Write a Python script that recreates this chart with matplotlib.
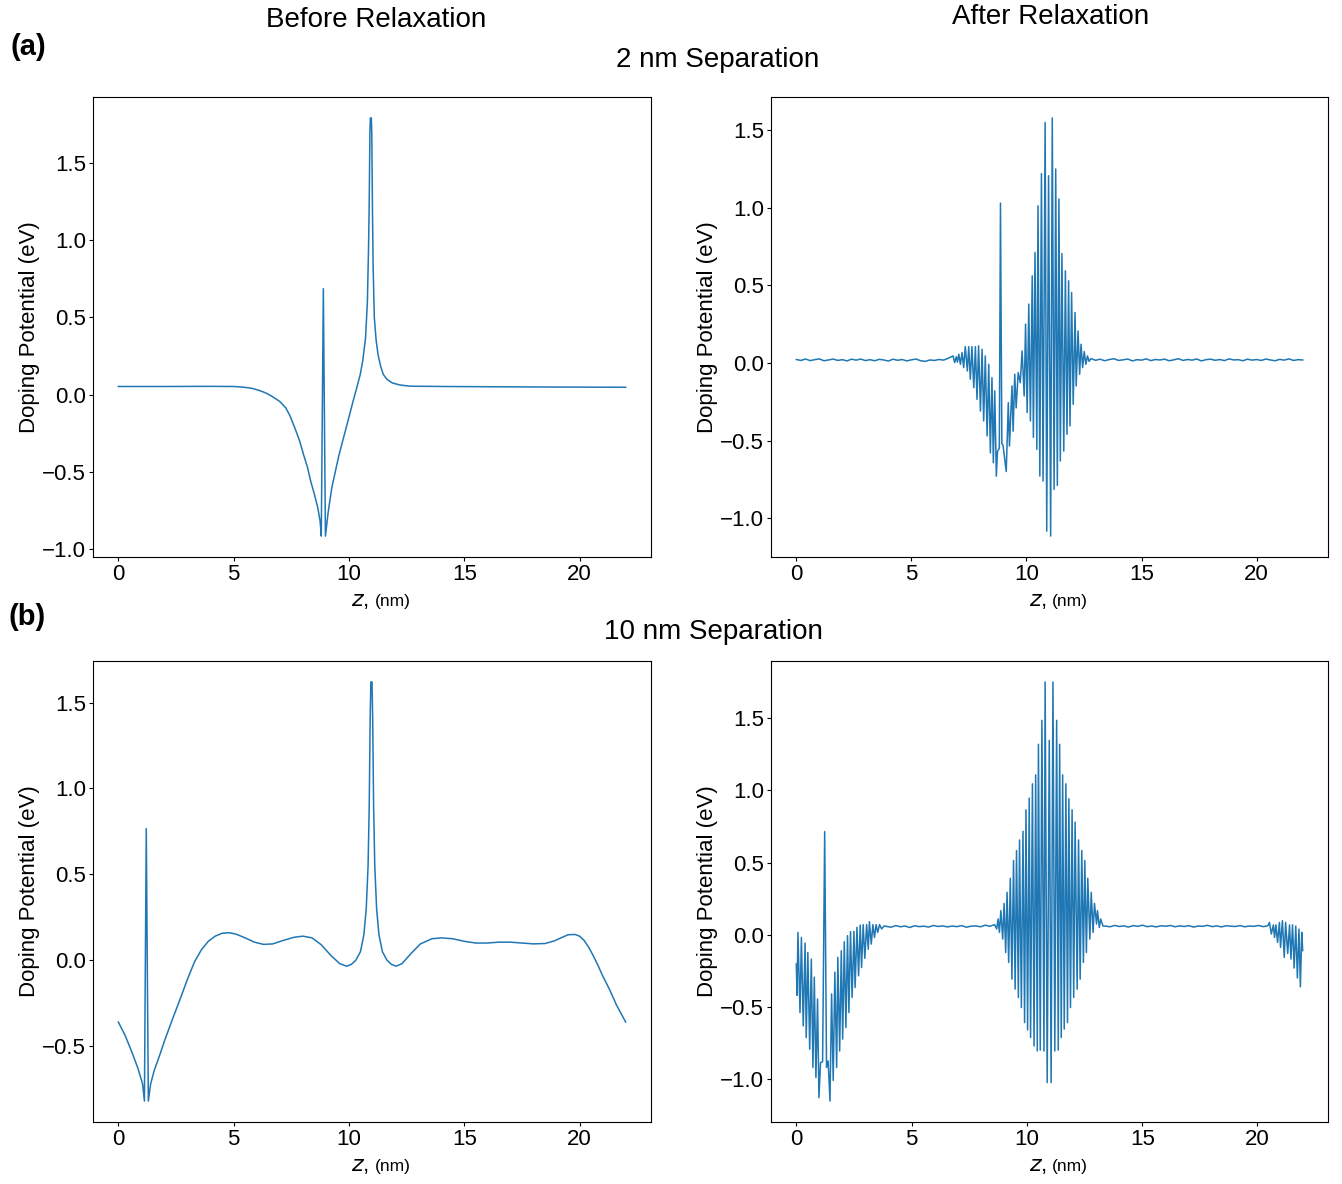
import numpy as np
import matplotlib
matplotlib.use("Agg")
import matplotlib.pyplot as plt

plt.rcParams["font.family"] = ["Liberation Sans", "DejaVu Sans"]

LINE_COLOR = "#1f77b4"
X_TICKS = [0, 5, 10, 15, 20]

# ---- (a) 2 nm separation, before relaxation ----
TL_Z = [0.0, 2.0, 4.0, 5.0, 5.4, 5.8, 6.1, 6.4, 6.7, 7.0, 7.26, 7.45, 7.65, 7.85,
        8.03, 8.2, 8.34, 8.5, 8.65, 8.75, 8.8, 8.89, 8.98, 9.1, 9.26, 9.57, 9.88,
        10.18, 10.35, 10.49, 10.6, 10.72, 10.8, 10.85, 10.88, 10.91, 10.93, 10.97,
        10.99, 11.02, 11.05, 11.1, 11.18, 11.26, 11.38, 11.49, 11.65, 11.88, 12.2,
        12.65, 14.2, 18.0, 22.0]
TL_V = [0.052, 0.052, 0.053, 0.052, 0.048, 0.040, 0.027, 0.010, -0.015, -0.045,
        -0.086, -0.14, -0.215, -0.295, -0.388, -0.47, -0.56, -0.645, -0.733, -0.82,
        -0.916, 0.685, -0.916, -0.76, -0.60, -0.39, -0.215, -0.043, 0.05, 0.13, 0.22,
        0.366, 0.60, 0.95, 1.25, 1.70, 1.79, 1.79, 1.70, 1.20, 0.82, 0.50, 0.35,
        0.26, 0.18, 0.13, 0.098, 0.075, 0.062, 0.054, 0.052, 0.049, 0.047]

# ---- (a) 2 nm separation, after relaxation ----
TR_FLAT_L = [0.022, 0.016, 0.025, 0.015, 0.021, 0.026, 0.014, 0.019, 0.025, 0.016,
             0.021, 0.013, 0.024, 0.018, 0.025, 0.015, 0.021, 0.014, 0.023, 0.019,
             0.012, 0.024, 0.017, 0.022, 0.013, 0.020, 0.025, 0.014, 0.010, 0.019,
             0.016, 0.022, 0.018, 0.030]
TR_OSC_Z = [6.81, 6.88, 6.95, 7.0, 7.06, 7.13, 7.2, 7.27, 7.34, 7.43,
            7.49, 7.56, 7.63, 7.71, 7.78, 7.85, 7.92, 8.0, 8.07, 8.14,
            8.21, 8.29, 8.36, 8.43, 8.5, 8.56, 8.62, 8.69, 8.74, 8.82,
            8.87, 8.93, 8.98, 9.12, 9.21, 9.26, 9.37, 9.42, 9.49, 9.55,
            9.64, 9.73, 9.81, 9.9, 9.96, 10.03, 10.1, 10.17, 10.25, 10.3,
            10.37, 10.45, 10.5, 10.58, 10.65, 10.72, 10.81, 10.88, 10.96, 11.05,
            11.12, 11.2, 11.27, 11.34, 11.41, 11.47, 11.54, 11.62, 11.69, 11.76,
            11.83, 11.89, 11.96, 12.03, 12.11, 12.16, 12.24, 12.31, 12.37, 12.44,
            12.51, 12.58, 12.65, 12.72]
TR_OSC_V = [0.045, 0.002, 0.040, 0.005, 0.056, -0.009, 0.067, -0.030, 0.105, -0.052,
            0.105, -0.105, 0.105, -0.160, 0.105, -0.235, 0.110, -0.310, 0.088, -0.374,
            0.045, -0.470, -0.009, -0.580, -0.095, -0.643, -0.180, -0.730, -0.570, -0.550,
            1.030, -0.520, -0.530, -0.700, -0.256, -0.536, -0.148, -0.440, -0.073, -0.290,
            -0.062, -0.127, 0.077, -0.213, 0.250, -0.320, 0.379, -0.374, 0.561, -0.480,
            0.712, -0.557, 1.013, -0.729, 1.220, -0.761, 1.550, -1.084, 1.206, -1.116,
            1.579, -0.815, 1.250, -0.790, 1.056, -0.632, 0.705, -0.568, 0.594, -0.460,
            0.529, -0.406, 0.454, -0.267, 0.325, -0.148, 0.206, -0.073, 0.120, -0.030,
            0.073, -0.009, 0.045, 0.010]
TR_FLAT_R = [0.028, 0.017, 0.024, 0.014, 0.022, 0.027, 0.016, 0.020, 0.025, 0.013,
             0.021, 0.018, 0.026, 0.015, 0.022, 0.019, 0.024, 0.014, 0.020, 0.027,
             0.016, 0.022, 0.018, 0.025, 0.013, 0.021, 0.024, 0.017, 0.022, 0.015,
             0.026, 0.019, 0.021, 0.014, 0.024, 0.018, 0.022, 0.016, 0.025, 0.019,
             0.014, 0.023, 0.018, 0.026, 0.016, 0.021, 0.019]

# ---- (b) 10 nm separation, before relaxation ----
BL_Z = [0.0, 0.3, 0.6, 0.85, 1.05, 1.13, 1.21, 1.3, 1.4, 1.56, 1.8, 2.0, 2.3, 2.64,
        3.0, 3.3, 3.6, 3.9, 4.2, 4.5, 4.8, 5.1, 5.5, 5.9, 6.3, 6.7, 7.1, 7.6, 8.0,
        8.4, 8.8, 9.2, 9.6, 9.9, 10.1, 10.3, 10.5, 10.65, 10.75, 10.83, 10.88, 10.92,
        10.95, 11.0, 11.03, 11.07, 11.12, 11.2, 11.3, 11.45, 11.65, 11.85, 12.05,
        12.3, 12.7, 13.1, 13.6, 14.0, 14.5, 15.0, 15.5, 16.0, 16.5, 17.0, 17.5,
        18.0, 18.5, 18.9, 19.2, 19.5, 19.8, 20.0, 20.2, 20.4, 20.6, 20.8, 21.0,
        21.3, 21.6, 22.0]
BL_V = [-0.36, -0.44, -0.54, -0.63, -0.72, -0.82, 0.766, -0.82, -0.72, -0.64, -0.55,
        -0.47, -0.36, -0.24, -0.11, -0.01, 0.06, 0.11, 0.14, 0.157, 0.16, 0.152, 0.13,
        0.105, 0.092, 0.095, 0.113, 0.133, 0.14, 0.13, 0.09, 0.03, -0.02, -0.035,
        -0.025, 0.0, 0.05, 0.15, 0.30, 0.55, 0.90, 1.40, 1.62, 1.62, 1.40, 0.90, 0.55,
        0.30, 0.15, 0.05, 0.0, -0.025, -0.035, -0.02, 0.04, 0.095, 0.125, 0.13, 0.125,
        0.11, 0.10, 0.10, 0.105, 0.105, 0.10, 0.095, 0.097, 0.112, 0.13, 0.148, 0.15,
        0.14, 0.115, 0.075, 0.025, -0.03, -0.09, -0.17, -0.26, -0.36]

# ---- (b) 10 nm separation, after relaxation ----
BR_OSC1_Z = [0.0, 0.03, 0.07, 0.16, 0.22, 0.30, 0.38, 0.43, 0.50, 0.58,
             0.65, 0.72, 0.78, 0.85, 0.92, 0.98, 1.05, 1.14, 1.23, 1.31,
             1.38, 1.46, 1.53, 1.60, 1.67, 1.75, 1.80, 1.88, 1.95, 2.01,
             2.08, 2.15, 2.22, 2.28, 2.35, 2.42, 2.50, 2.55, 2.63, 2.70,
             2.77, 2.83, 2.90, 2.97, 3.05, 3.12, 3.17, 3.25, 3.32, 3.39,
             3.46, 3.53, 3.61, 3.70, 3.80]
BR_OSC1_V = [-0.204, -0.420, 0.016, -0.540, -0.019, -0.632, -0.058, -0.713, -0.123, -0.794,
             -0.169, -0.920, -0.294, -0.990, -0.446, -1.130, -0.887, -0.880, 0.715, -0.920,
             -0.875, -1.153, -0.410, -1.010, -0.260, -0.920, -0.157, -0.806, -0.111, -0.724,
             -0.049, -0.644, -0.007, -0.540, 0.021, -0.435, 0.023, -0.366, 0.051, -0.285,
             0.067, -0.227, 0.070, -0.164, 0.070, -0.100, 0.090, -0.065, 0.070, -0.019,
             0.070, 0.016, 0.070, 0.040, 0.060]
BR_FLAT_1 = [0.058, 0.052, 0.063, 0.055, 0.060, 0.050, 0.062, 0.056, 0.059, 0.053,
             0.064, 0.057, 0.061, 0.054, 0.060, 0.056, 0.063, 0.052, 0.059, 0.061,
             0.055, 0.066, 0.058, 0.070]
BR_OSC2_Z = [8.69, 8.75, 8.81, 8.87, 8.95, 9.01, 9.08, 9.14, 9.21, 9.28,
             9.35, 9.42, 9.49, 9.55, 9.63, 9.68, 9.76, 9.83, 9.90, 9.96,
             10.03, 10.10, 10.16, 10.24, 10.31, 10.38, 10.45, 10.50, 10.58, 10.65,
             10.74, 10.79, 10.88, 10.97, 11.05, 11.13, 11.21, 11.29, 11.36, 11.42,
             11.49, 11.55, 11.62, 11.69, 11.76, 11.82, 11.89, 11.96, 12.03, 12.09,
             12.18, 12.24, 12.31, 12.38, 12.45, 12.51, 12.58, 12.64, 12.73, 12.79,
             12.87, 12.93, 13.02, 13.06, 13.14, 13.20, 13.30]
BR_OSC2_V = [0.040, 0.109, 0.016, 0.167, -0.030, 0.217, -0.123, 0.294, -0.192, 0.391,
             -0.308, 0.514, -0.377, 0.583, -0.435, 0.657, -0.505, 0.717, -0.609, 0.866,
             -0.660, 0.947, -0.713, 1.046, -0.771, 1.108, -0.806, 1.320, -0.800, 1.486,
             -0.806, 1.752, -1.025, 1.347, -1.025, 1.752, -0.806, 1.486, -0.800, 1.320,
             -0.713, 1.108, -0.654, 1.046, -0.609, 0.942, -0.505, 0.866, -0.435, 0.780,
             -0.377, 0.657, -0.308, 0.583, -0.192, 0.514, -0.123, 0.391, -0.030, 0.294,
             0.016, 0.217, 0.074, 0.167, 0.050, 0.109, 0.060]
BR_FLAT_2 = [0.060, 0.055, 0.064, 0.057, 0.061, 0.053, 0.063, 0.058, 0.066, 0.056,
             0.060, 0.054, 0.062, 0.059, 0.064, 0.055, 0.061, 0.057, 0.063, 0.053,
             0.060, 0.058, 0.065, 0.056, 0.061, 0.054, 0.062, 0.059, 0.057, 0.063,
             0.055, 0.060, 0.058, 0.064, 0.056, 0.062]
BR_OSC3_Z = [20.52, 20.60, 20.69, 20.74, 20.80, 20.87, 20.95, 21.00, 21.08, 21.16,
             21.22, 21.31, 21.39, 21.45, 21.52, 21.59, 21.66, 21.73, 21.80, 21.86,
             21.92, 21.96]
BR_OSC3_V = [0.085, 0.005, 0.068, -0.019, 0.068, -0.053, 0.085, -0.088, 0.097, -0.157,
             0.085, -0.130, 0.068, -0.169, 0.068, -0.231, 0.060, -0.300, 0.039, -0.361,
             0.016, -0.110]


def draw_panel(ax, z, v, yticks):
    ax.plot(z, v, color=LINE_COLOR, lw=1.1)
    ax.set_xticks(X_TICKS)
    ax.set_yticks(yticks)
    ax.tick_params(labelsize=16, length=2.6, pad=2.6)
    ax.set_ylabel("Doping Potential (eV)", fontsize=16, labelpad=1.5)
    # x label: "z," larger than "(nm)"
    ax.annotate("$z$,", xy=(0.5, 0), xycoords="axes fraction", xytext=(-2, -35),
                textcoords="offset points", ha="right", va="baseline", fontsize=16)
    ax.annotate("(nm)", xy=(0.5, 0), xycoords="axes fraction", xytext=(2, -35),
                textcoords="offset points", ha="left", va="baseline", fontsize=12.5)


def main():
    W, H = 1342, 1184
    fig = plt.figure(figsize=(W / 100, H / 100), dpi=100)

    def box(l, t, r, b):
        return [l / W, 1 - b / H, (r - l) / W, (b - t) / H]

    ax_tl = fig.add_axes(box(93, 97, 651, 557))
    ax_tr = fig.add_axes(box(771, 97, 1328, 557))
    ax_bl = fig.add_axes(box(93, 661, 651, 1122))
    ax_br = fig.add_axes(box(771, 661, 1328, 1122))

    draw_panel(ax_tl, TL_Z, TL_V, [-1.0, -0.5, 0.0, 0.5, 1.0, 1.5])

    tr_z = np.concatenate([np.linspace(0.0, 6.6, len(TR_FLAT_L)), TR_OSC_Z,
                           np.linspace(12.8, 22.0, len(TR_FLAT_R))])
    tr_v = np.concatenate([TR_FLAT_L, TR_OSC_V, TR_FLAT_R])
    draw_panel(ax_tr, tr_z, tr_v, [-1.0, -0.5, 0.0, 0.5, 1.0, 1.5])

    draw_panel(ax_bl, BL_Z, BL_V, [-0.5, 0.0, 0.5, 1.0, 1.5])

    br_z = np.concatenate([BR_OSC1_Z, np.linspace(3.9, 8.6, len(BR_FLAT_1)), BR_OSC2_Z,
                           np.linspace(13.4, 20.45, len(BR_FLAT_2)), BR_OSC3_Z])
    br_v = np.concatenate([BR_OSC1_V, BR_FLAT_1, BR_OSC2_V, BR_FLAT_2, BR_OSC3_V])
    draw_panel(ax_br, br_z, br_v, [-1.0, -0.5, 0.0, 0.5, 1.0, 1.5])

    fig.text(376 / W, 1 - 20 / H, "Before Relaxation", ha="center", va="center", fontsize=20)
    fig.text(1051 / W, 1 - 17 / H, "After Relaxation", ha="center", va="center", fontsize=20)
    fig.text(718 / W, 1 - 60 / H, "2 nm Separation", ha="center", va="center", fontsize=20)
    fig.text(713 / W, 1 - 632 / H, "10 nm Separation", ha="center", va="center", fontsize=20)
    fig.text(10 / W, 1 - 47 / H, "(a)", ha="left", va="center", fontsize=21, fontweight="bold")
    fig.text(8 / W, 1 - 617 / H, "(b)", ha="left", va="center", fontsize=21, fontweight="bold")

    fig.savefig("out.png", dpi=100)
    plt.close(fig)


if __name__ == "__main__":
    main()
